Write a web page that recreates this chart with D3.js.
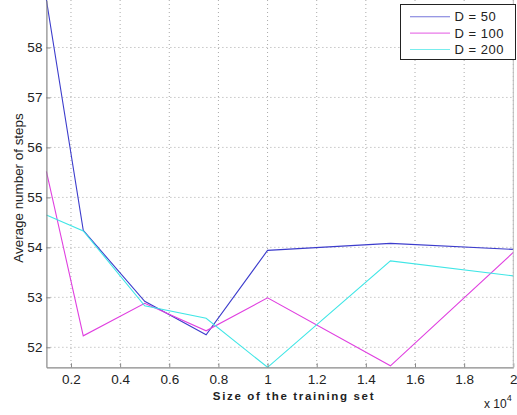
<!DOCTYPE html>
<html><head><meta charset="utf-8">
<script src="https://cdn.jsdelivr.net/npm/d3@7"></script>
<style>body{margin:0;background:#fff}svg{display:block}text{font-family:"Liberation Sans",Arial,sans-serif}</style>
</head><body>
<svg id="c" width="517" height="415"></svg>
<script>
const xValues = [0.1, 0.25, 0.5, 0.75, 1, 1.5, 2];
const d50  = [58.95, 54.34, 52.92, 52.25, 53.94, 54.08, 53.96];
const d100 = [55.52, 52.23, 52.88, 52.33, 52.99, 51.63, 53.90];
const d200 = [54.65, 54.33, 52.83, 52.58, 51.60, 53.73, 53.43];
const seriesNames = ["D = 50", "D = 100", "D = 200"];
const seriesColors = ["#3c3ccc", "#e040e0", "#40e6e6"];
const xTicks = [0.2, 0.4, 0.6, 0.8, 1, 1.2, 1.4, 1.6, 1.8, 2];
const yTicks = [52, 53, 54, 55, 56, 57, 58];

const svg = d3.select("#c");
const L = 46.4, R = 513.3, T = 0, B = 367.3;
const x = d3.scaleLinear().domain([0.1, 2]).range([L, R]);
const y = d3.scaleLinear().domain([51.6, 58.95]).range([B, T]);
const series = [d50, d100, d200];

// grid
const g = svg.append("g");
xTicks.forEach(t => g.append("line").attr("x1", x(t)).attr("x2", x(t)).attr("y1", T).attr("y2", B)
  .attr("stroke", "#aaa").attr("stroke-width", 1).attr("stroke-dasharray", "1,3"));
yTicks.forEach(t => g.append("line").attr("x1", L).attr("x2", R).attr("y1", y(t)).attr("y2", y(t))
  .attr("stroke", "#aaa").attr("stroke-width", 1).attr("stroke-dasharray", "1,3"));

// lines
const line = d3.line().x((d, i) => x(xValues[i])).y(d => y(d));
series.forEach((s, k) => svg.append("path").datum(s).attr("d", line)
  .attr("fill", "none").attr("stroke", seriesColors[k]).attr("stroke-width", 1.1));

// axes
const ax = svg.append("g").attr("transform", `translate(0,${B})`)
  .call(d3.axisBottom(x).tickValues(xTicks).tickFormat(d3.format("~g")).tickSizeInner(-4).tickSizeOuter(0).tickPadding(7));
const ay = svg.append("g").attr("transform", `translate(${L},0)`)
  .call(d3.axisLeft(y).tickValues(yTicks).tickSizeInner(-4).tickSizeOuter(0).tickPadding(4));
[ax, ay].forEach(a => {
  a.select(".domain").attr("stroke", "#888").attr("stroke-width", 1.2);
  a.selectAll(".tick line").attr("stroke", "#888");
  a.selectAll("text").attr("font-size", 13.5).attr("fill", "#222").attr("font-family", "Liberation Sans, Arial, sans-serif");
});
svg.append("line").attr("x1", R).attr("x2", R).attr("y1", T).attr("y2", B).attr("stroke", "#bbb").attr("stroke-width", 1);

// labels
svg.append("text").attr("x", 294).attr("y", 399.5).attr("text-anchor", "middle")
  .attr("font-weight", "bold").attr("fill", "#222")
  .attr("font-family", "DejaVu Sans, sans-serif").attr("font-size", 11.5).attr("letter-spacing", 1.65)
  .text("Size of the training set");
svg.append("text").attr("transform", "translate(23,188) rotate(-90)").attr("text-anchor", "middle")
  .attr("font-size", 13.4).attr("fill", "#222").text("Average number of steps");
const e = svg.append("text").attr("x", 484).attr("y", 408).attr("font-size", 12).attr("fill", "#222");
e.append("tspan").text("x 10");
e.append("tspan").attr("dy", -7).attr("font-size", 9).text("4");

// legend
const lg = svg.append("g");
lg.append("rect").attr("x", 400.5).attr("y", 4.5).attr("width", 115).attr("height", 55)
  .attr("fill", "#fff").attr("stroke", "#222").attr("stroke-width", 1);
seriesNames.forEach((n, k) => {
  const yy = 16.7 + k * 16.4;
  lg.append("line").attr("x1", 410).attr("x2", 450).attr("y1", yy).attr("y2", yy)
    .attr("stroke", seriesColors[k]).attr("stroke-width", 1.1).attr("opacity", 0.7);
  lg.append("text").attr("x", 454.5).attr("y", yy + 4.5).attr("font-size", 13).attr("letter-spacing", 0.5)
    .attr("fill", "#222").text(n);
});
</script>
</body></html>
